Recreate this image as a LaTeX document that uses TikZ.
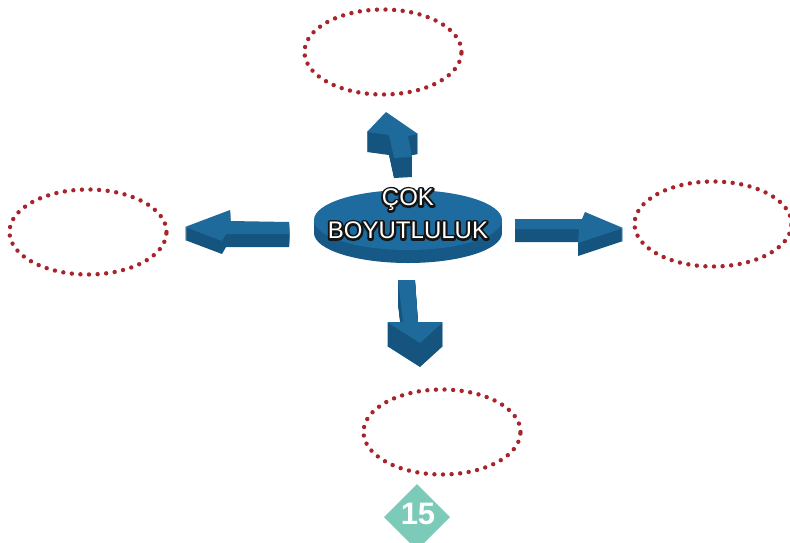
\documentclass[tikz,border=0pt]{standalone}
\usepackage{fontspec}
\setmainfont{Liberation Sans}
\usetikzlibrary{shapes.geometric,calc}

\definecolor{dotred}{HTML}{A8232A}
\definecolor{arrowtop}{HTML}{1E6A9A}
\definecolor{arrowside}{HTML}{14547F}
\definecolor{disctop}{HTML}{1D6B9F}
\definecolor{discside}{HTML}{165886}
\definecolor{badge}{HTML}{7CCBB8}

\tikzset{
	blank/.style={ellipse,draw=dotred,line width=4.4pt,dash pattern=on 0pt off 8.6pt,line cap=round,minimum width=157pt,minimum height=85pt,inner sep=0pt},
	titletext/.style={align=center,text=white,font=\fontsize{24}{33}\selectfont}
}

% extruded block arrow: depth, outline
\newcommand{\blockarrow}[2]{%
	\foreach \k in {#1,...,1} \fill[arrowside,yshift=-\k pt] #2 -- cycle;
	\fill[arrowtop] #2 -- cycle;
}
% stroke only, for the dark rim behind the white letters
\newcommand{\rimmed}[1]{\special{pdf:literal direct 1 Tr 4.2 w 1 j 0.08 G}#1\special{pdf:literal direct 0 Tr}}

\begin{document}
\begin{tikzpicture}[x=1pt,y=-1pt]
	\useasboundingbox (0,0) rectangle (790,542);
	\clip (0,0) rectangle (790,542);

	% empty ellipses
	\node[blank] (up) at (383,52) {};
	\node[blank] (left) at (88,232) {};
	\node[blank] (right) at (713,224) {};
	\node[blank] (down) at (442,432) {};

	% disc
	\fill[discside] (408,233) ellipse [x radius=94pt,y radius=30pt];
	\fill[discside] (314,220) rectangle (502,233);
	\node[ellipse,fill=disctop,minimum width=188pt,minimum height=60pt,inner sep=0pt] (disc) at (408,220) {};
	\node[titletext] (rim) at ($(disc)+(0,-6)$) {\rimmed{ÇOK}\\\rimmed{BOYUTLULUK}};
	\node[titletext] (title) at (rim) {ÇOK\\BOYUTLULUK};

	% arrows
	\blockarrow{20}{(386,112) -- (418,134) -- (408,136) -- (412,157) -- (394,158) -- (389,135) -- (367,132)}
	\blockarrow{13}{(185,227) -- (230,210) -- (230,221) -- (289,222) -- (289,234) -- (226,234) -- (222,241)}
	\blockarrow{13}{(515,219) -- (582,219) -- (585,212) -- (623,228) -- (578,243) -- (579,229) -- (515,229)}
	\blockarrow{24}{(398,280) -- (415,280) -- (418,322) -- (443,322) -- (420,343) -- (387,322) -- (403,322)}

	% page number
	\fill[badge] (384,517) -- (417,484) -- (450,517) -- (417,550) -- cycle;
	\node[text=white,font=\fontsize{31}{31}\selectfont\bfseries] (page) at (418,514) {15};
\end{tikzpicture}
\end{document}
